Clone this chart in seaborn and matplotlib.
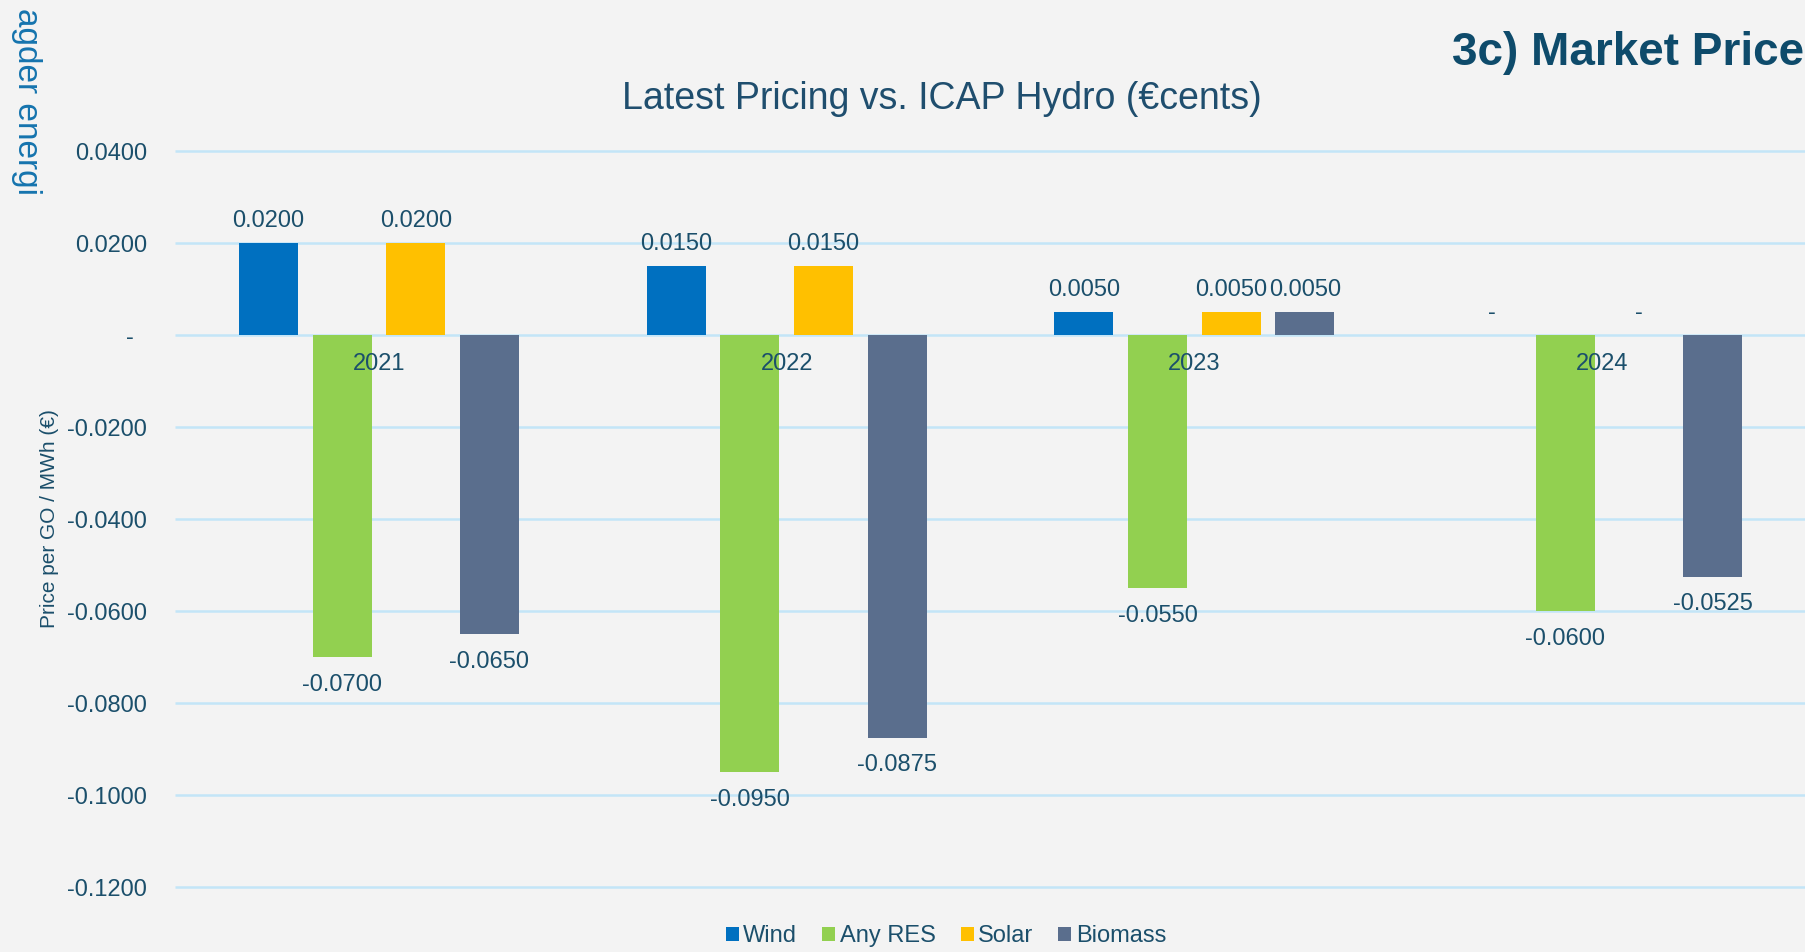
import pandas as pd
import matplotlib
matplotlib.use("Agg")
import matplotlib.pyplot as plt
import seaborn as sns
from matplotlib.ticker import FuncFormatter

# values (price per GO / MWh, EUR)
years = ["2021", "2022", "2023", "2024"]
types = ["Wind", "Any RES", "Solar", "Biomass"]
wind = [0.0200, 0.0150, 0.0050, 0.0]
any_res = [-0.0700, -0.0950, -0.0550, -0.0600]
solar = [0.0200, 0.0150, 0.0050, 0.0]
biomass = [-0.0650, -0.0875, 0.0050, -0.0525]
y_ticks = [0.04, 0.02, 0.0, -0.02, -0.04, -0.06, -0.08, -0.10, -0.12]

colors = {"Wind": "#0070C0", "Any RES": "#92D050", "Solar": "#FFC000", "Biomass": "#5A6E8D"}
text_col = "#1B4F6B"
grid_col = "#C3E5F7"
bg = "#F3F3F3"

rows = []
for name, vals in zip(types, [wind, any_res, solar, biomass]):
    for yr, v in zip(years, vals):
        rows.append({"Year": yr, "Type": name, "Price": v})
df = pd.DataFrame(rows)

sns.set_theme(style="white")
plt.rcParams["font.family"] = ["Liberation Sans", "DejaVu Sans"]

fig = plt.figure(figsize=(18.06, 9.52), dpi=100, facecolor=bg)
ax = fig.add_axes([175 / 1806, 1 - 887 / 952, 1 - 175 / 1806, 736 / 952])
ax.set_facecolor(bg)

# gridlines behind the bars
ax.hlines(y_ticks, -0.5, 3.5, colors=grid_col, linewidth=1.8, zorder=0, clip_on=False)

sns.barplot(data=df, x="Year", y="Price", hue="Type", order=years, hue_order=types,
            palette=colors, saturation=1, width=0.723, gap=0.2, errorbar=None,
            linewidth=0, ax=ax, zorder=2)

def fmt(v):
    return "-" if abs(v) < 1e-12 else f"{v:.4f}"

for cont, name in zip(ax.containers, types):
    vals = df[df["Type"] == name].set_index("Year").loc[years, "Price"]
    ax.bar_label(cont, labels=[fmt(v) if v >= 0 else "" for v in vals], padding=8,
                 fontsize=17, color=text_col)
    ax.bar_label(cont, labels=[fmt(v) if v < 0 else "" for v in vals], padding=12,
                 fontsize=17, color=text_col)

ax.set_xlim(-0.5, 3.5)
ax.set_ylim(-0.12, 0.04)
ax.set_yticks(y_ticks)
# accounting style: zero shown as a dash, set in a little from the right
ax.yaxis.set_major_formatter(FuncFormatter(lambda v, p: "-  " if abs(v) < 1e-12 else f"{v:.4f}"))
for s in ax.spines.values():
    s.set_visible(False)
ax.spines["bottom"].set_position(("data", 0))
ax.set_axisbelow(False)
ax.xaxis.set_zorder(3)
ax.tick_params(axis="y", length=0, pad=20, labelsize=17, labelcolor=text_col)
ax.tick_params(axis="x", length=0, pad=13, labelsize=17, labelcolor=text_col)
ax.set_xlabel("")
ax.set_ylabel("Price per GO / MWh (€)", fontsize=15, color=text_col)
ax.yaxis.set_label_coords((59 - 175) / 1631, 0.5)

sns.move_legend(ax, "center", bbox_to_anchor=(946 / 1806, 1 - 936 / 952),
                bbox_transform=fig.transFigure, ncol=4, frameon=False, title=None,
                fontsize=17, handlelength=0.55, handleheight=0.55, handletextpad=0.2,
                columnspacing=1.05)
for t in ax.get_legend().get_texts():
    t.set_color(text_col)

fig.text(942 / 1806, 1 - 99 / 952, "Latest Pricing vs. ICAP Hydro (€cents)",
         ha="center", va="center", fontsize=27, color="#1F4E6E")
fig.text(1452 / 1806, 1 - 53 / 952, "3c) Market Price", ha="left", va="center",
         fontsize=33, fontweight="bold", color="#0E4B6B")
fig.text(26 / 1806, 1 - 8 / 952, "agder energi", rotation=270, ha="center", va="top",
         fontsize=24, fontweight="light", color="#1574AE")

fig.savefig("out.png", dpi=100, facecolor=bg)
